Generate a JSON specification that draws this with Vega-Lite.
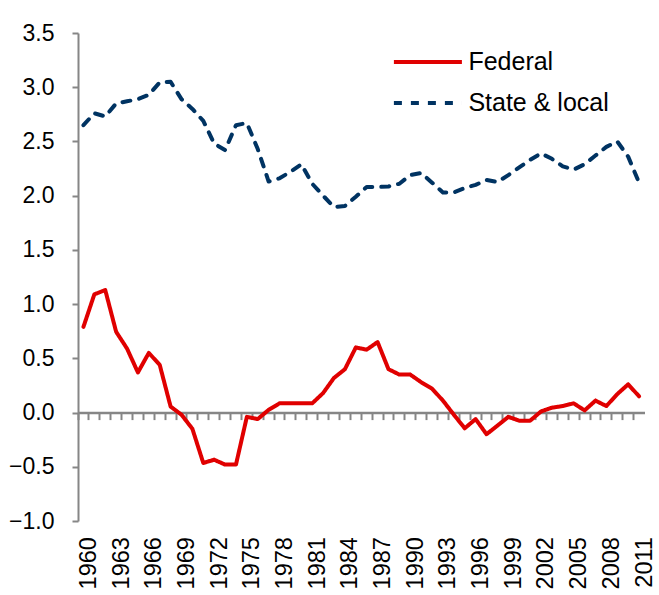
{
  "$schema": "https://vega.github.io/schema/vega-lite/v6.json",
  "width": 566.5,
  "height": 488,
  "autosize": {"type": "none"},
  "padding": {"left": 78, "top": 33, "right": 14.5, "bottom": 74},
  "background": "white",
  "config": {"view": {"stroke": null}, "font": "Liberation Sans"},
  "data": {"values": [
    {"year": 1960, "series": "Federal", "value": 0.79},
    {"year": 1961, "series": "Federal", "value": 1.09},
    {"year": 1962, "series": "Federal", "value": 1.13},
    {"year": 1963, "series": "Federal", "value": 0.745},
    {"year": 1964, "series": "Federal", "value": 0.59},
    {"year": 1965, "series": "Federal", "value": 0.37},
    {"year": 1966, "series": "Federal", "value": 0.55},
    {"year": 1967, "series": "Federal", "value": 0.44},
    {"year": 1968, "series": "Federal", "value": 0.055},
    {"year": 1969, "series": "Federal", "value": -0.02},
    {"year": 1970, "series": "Federal", "value": -0.15},
    {"year": 1971, "series": "Federal", "value": -0.465},
    {"year": 1972, "series": "Federal", "value": -0.435},
    {"year": 1973, "series": "Federal", "value": -0.48},
    {"year": 1974, "series": "Federal", "value": -0.48},
    {"year": 1975, "series": "Federal", "value": -0.04},
    {"year": 1976, "series": "Federal", "value": -0.06},
    {"year": 1977, "series": "Federal", "value": 0.025},
    {"year": 1978, "series": "Federal", "value": 0.085},
    {"year": 1979, "series": "Federal", "value": 0.085},
    {"year": 1980, "series": "Federal", "value": 0.085},
    {"year": 1981, "series": "Federal", "value": 0.085},
    {"year": 1982, "series": "Federal", "value": 0.18},
    {"year": 1983, "series": "Federal", "value": 0.32},
    {"year": 1984, "series": "Federal", "value": 0.40},
    {"year": 1985, "series": "Federal", "value": 0.60},
    {"year": 1986, "series": "Federal", "value": 0.58},
    {"year": 1987, "series": "Federal", "value": 0.65},
    {"year": 1988, "series": "Federal", "value": 0.40},
    {"year": 1989, "series": "Federal", "value": 0.35},
    {"year": 1990, "series": "Federal", "value": 0.35},
    {"year": 1991, "series": "Federal", "value": 0.28},
    {"year": 1992, "series": "Federal", "value": 0.22},
    {"year": 1993, "series": "Federal", "value": 0.11},
    {"year": 1994, "series": "Federal", "value": -0.02},
    {"year": 1995, "series": "Federal", "value": -0.145},
    {"year": 1996, "series": "Federal", "value": -0.06},
    {"year": 1997, "series": "Federal", "value": -0.20},
    {"year": 1998, "series": "Federal", "value": -0.12},
    {"year": 1999, "series": "Federal", "value": -0.04},
    {"year": 2000, "series": "Federal", "value": -0.075},
    {"year": 2001, "series": "Federal", "value": -0.075},
    {"year": 2002, "series": "Federal", "value": 0.01},
    {"year": 2003, "series": "Federal", "value": 0.045},
    {"year": 2004, "series": "Federal", "value": 0.06},
    {"year": 2005, "series": "Federal", "value": 0.085},
    {"year": 2006, "series": "Federal", "value": 0.02},
    {"year": 2007, "series": "Federal", "value": 0.11},
    {"year": 2008, "series": "Federal", "value": 0.06},
    {"year": 2009, "series": "Federal", "value": 0.17},
    {"year": 2010, "series": "Federal", "value": 0.26},
    {"year": 2011, "series": "Federal", "value": 0.15},
    {"year": 1960, "series": "State & local", "value": 2.65},
    {"year": 1961, "series": "State & local", "value": 2.76},
    {"year": 1962, "series": "State & local", "value": 2.73},
    {"year": 1963, "series": "State & local", "value": 2.85},
    {"year": 1964, "series": "State & local", "value": 2.87},
    {"year": 1965, "series": "State & local", "value": 2.89},
    {"year": 1966, "series": "State & local", "value": 2.93},
    {"year": 1967, "series": "State & local", "value": 3.045},
    {"year": 1968, "series": "State & local", "value": 3.05},
    {"year": 1969, "series": "State & local", "value": 2.89},
    {"year": 1970, "series": "State & local", "value": 2.80},
    {"year": 1971, "series": "State & local", "value": 2.69},
    {"year": 1972, "series": "State & local", "value": 2.48},
    {"year": 1973, "series": "State & local", "value": 2.42},
    {"year": 1974, "series": "State & local", "value": 2.65},
    {"year": 1975, "series": "State & local", "value": 2.67},
    {"year": 1976, "series": "State & local", "value": 2.43},
    {"year": 1977, "series": "State & local", "value": 2.13},
    {"year": 1978, "series": "State & local", "value": 2.16},
    {"year": 1979, "series": "State & local", "value": 2.22},
    {"year": 1980, "series": "State & local", "value": 2.29},
    {"year": 1981, "series": "State & local", "value": 2.11},
    {"year": 1982, "series": "State & local", "value": 2.00},
    {"year": 1983, "series": "State & local", "value": 1.895},
    {"year": 1984, "series": "State & local", "value": 1.905},
    {"year": 1985, "series": "State & local", "value": 1.99},
    {"year": 1986, "series": "State & local", "value": 2.08},
    {"year": 1987, "series": "State & local", "value": 2.08},
    {"year": 1988, "series": "State & local", "value": 2.085},
    {"year": 1989, "series": "State & local", "value": 2.11},
    {"year": 1990, "series": "State & local", "value": 2.19},
    {"year": 1991, "series": "State & local", "value": 2.21},
    {"year": 1992, "series": "State & local", "value": 2.12},
    {"year": 1993, "series": "State & local", "value": 2.03},
    {"year": 1994, "series": "State & local", "value": 2.03},
    {"year": 1995, "series": "State & local", "value": 2.07},
    {"year": 1996, "series": "State & local", "value": 2.10},
    {"year": 1997, "series": "State & local", "value": 2.145},
    {"year": 1998, "series": "State & local", "value": 2.125},
    {"year": 1999, "series": "State & local", "value": 2.19},
    {"year": 2000, "series": "State & local", "value": 2.26},
    {"year": 2001, "series": "State & local", "value": 2.33},
    {"year": 2002, "series": "State & local", "value": 2.39},
    {"year": 2003, "series": "State & local", "value": 2.34},
    {"year": 2004, "series": "State & local", "value": 2.27},
    {"year": 2005, "series": "State & local", "value": 2.24},
    {"year": 2006, "series": "State & local", "value": 2.29},
    {"year": 2007, "series": "State & local", "value": 2.37},
    {"year": 2008, "series": "State & local", "value": 2.45},
    {"year": 2009, "series": "State & local", "value": 2.50},
    {"year": 2010, "series": "State & local", "value": 2.36},
    {"year": 2011, "series": "State & local", "value": 2.12}
  ]},
  "mark": {"type": "line", "strokeWidth": 4, "strokeCap": "round", "strokeJoin": "round"},
  "encoding": {
    "x": {
      "field": "year",
      "type": "ordinal",
      "bandPosition": 0.5,
      "scale": {"type": "band", "paddingInner": 0, "paddingOuter": 0},
      "axis": {
        "title": null,
        "orient": "bottom",
        "offset": -108.4,
        "bandPosition": 0,
        "domainColor": "#868686",
        "domainWidth": 2.5,
        "tickColor": "#868686",
        "tickWidth": 2,
        "tickSize": 7,
        "labelAngle": -90,
        "labelFontSize": 23.5,
        "labelColor": "#000000",
        "labelFont": "Liberation Sans",
        "labelPadding": 117,
        "labelOffset": 5.45,
        "labelOverlap": false,
        "labelExpr": "(datum.value - 1960) % 3 === 0 ? datum.label : ''"
      }
    },
    "y": {
      "field": "value",
      "type": "quantitative",
      "scale": {"domain": [-1, 3.5], "nice": false, "zero": false},
      "axis": {
        "title": null,
        "values": [-1, -0.5, 0, 0.5, 1, 1.5, 2, 2.5, 3, 3.5],
        "format": ".1f",
        "grid": false,
        "domainColor": "#868686",
        "domainWidth": 2,
        "tickColor": "#868686",
        "tickWidth": 2,
        "tickSize": 6,
        "labelPadding": 18,
        "labelFontSize": 23,
        "labelColor": "#000000",
        "labelFont": "Liberation Sans"
      }
    },
    "color": {
      "field": "series",
      "type": "nominal",
      "scale": {"domain": ["Federal", "State & local"], "range": ["#E00000", "#003362"]},
      "legend": {
        "title": null,
        "orient": "none",
        "legendX": 336.4,
        "legendY": 15.5,
        "padding": 0,
        "symbolType": "M-3,0H3",
        "symbolSize": 514,
        "symbolStrokeWidth": 4,
        "labelOffset": 27,
        "rowPadding": 14,
        "labelFontSize": 25,
        "labelColor": "#000000",
        "labelFont": "Liberation Sans"
      }
    },
    "strokeDash": {
      "field": "series",
      "type": "nominal",
      "scale": {"domain": ["Federal", "State & local"], "range": [[1, 0], [8, 9]]},
      "legend": {
        "title": null,
        "orient": "none",
        "legendX": 336.4,
        "legendY": 15.5,
        "padding": 0,
        "symbolType": "M-3,0H3",
        "symbolSize": 514,
        "symbolStrokeWidth": 4,
        "labelOffset": 27,
        "rowPadding": 14,
        "labelFontSize": 25,
        "labelColor": "#000000",
        "labelFont": "Liberation Sans"
      }
    }
  }
}
